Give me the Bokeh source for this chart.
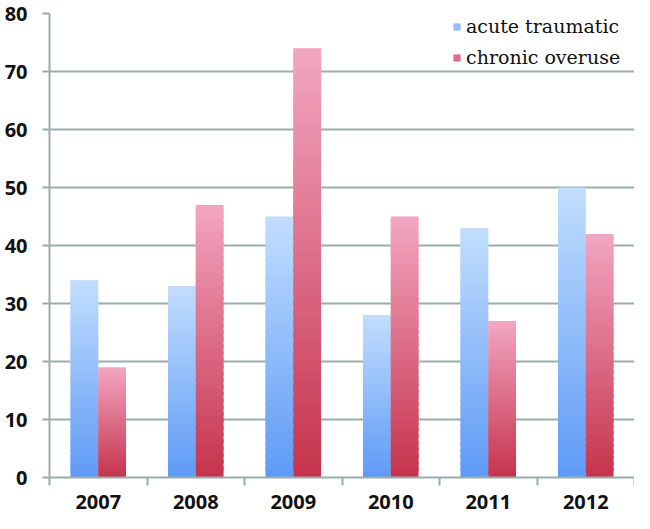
from bokeh.plotting import figure
from bokeh.models import (ColumnDataSource, Range1d, FixedTicker, Legend, LegendItem)
from bokeh.embed import file_html
from bokeh.resources import INLINE

years = ["2007", "2008", "2009", "2010", "2011", "2012"]
acute_traumatic = [34, 33, 45, 28, 43, 50]
chronic_overuse = [19, 47, 74, 45, 27, 42]
y_ticks = [0, 10, 20, 30, 40, 50, 60, 70, 80]

BLUE_TOP, BLUE_BOT = (0xC2, 0xDE, 0xFD), (0x5E, 0x9A, 0xF6)
RED_TOP, RED_BOT = (0xF2, 0xA6, 0xC2), (0xC6, 0x33, 0x4C)
GRID = "#98aeaa"
N = 40

W, H = 634, 513
BL, BR, BT, BB = 49, 0, 13, 36

def hexc(c):
    return "#%02x%02x%02x" % tuple(int(round(v)) for v in c)

def gradient_source(values, offset, top, bot):
    xs, bottoms, tops, colors = [], [], [], []
    for i, v in enumerate(values):
        for k in range(N):
            f = (k + 0.5) / N
            xs.append(i + 0.5 + offset)
            bottoms.append(v * k / N)
            ext = 0.6 if k < N - 1 else 0.0
            tops.append(v * (k + 1 + ext) / N)
            colors.append(hexc([b + (t - b) * f for t, b in zip(top, bot)]))
    return ColumnDataSource(dict(x=xs, bottom=bottoms, top=tops, color=colors))

p = figure(width=W, height=H, output_backend="svg", toolbar_location=None,
           x_range=Range1d(0, len(years)), y_range=Range1d(0, 80),
           min_border_left=BL, min_border_right=BR, min_border_top=BT, min_border_bottom=BB)
p.outline_line_color = None
p.background_fill_color = "white"
p.border_fill_color = "white"

bw = 0.285
src_a = gradient_source(acute_traumatic, -bw / 2, BLUE_TOP, BLUE_BOT)
src_c = gradient_source(chronic_overuse, bw / 2, RED_TOP, RED_BOT)
ra = p.vbar(x="x", bottom="bottom", top="top", width=bw, source=src_a,
            fill_color="color", line_color=None)
rc = p.vbar(x="x", bottom="bottom", top="top", width=bw, source=src_c,
            fill_color="color", line_color=None)

# axes
centers = [i + 0.5 for i in range(len(years))]
p.xaxis.ticker = FixedTicker(ticks=centers, minor_ticks=list(range(len(years) + 1)))
p.xaxis.major_label_overrides = {c: y for c, y in zip(centers, years)}
p.xaxis.major_tick_line_color = None
p.xaxis.major_tick_out = 0
p.xaxis.minor_tick_out = 8
p.xaxis.minor_tick_in = 0
p.xaxis.minor_tick_line_color = GRID
p.xaxis.minor_tick_line_width = 2
p.xaxis.major_label_standoff = 9
p.xgrid.grid_line_color = None

p.yaxis.ticker = FixedTicker(ticks=y_ticks, minor_ticks=[])
p.yaxis.major_tick_out = 7
p.yaxis.major_tick_in = 0
p.yaxis.major_tick_line_color = GRID
p.yaxis.major_tick_line_width = 2
p.yaxis.major_label_standoff = 15
p.ygrid.grid_line_color = GRID
p.ygrid.grid_line_width = 2

for ax in (p.xaxis, p.yaxis):
    ax.axis_line_color = GRID
    ax.axis_line_width = 2
    ax.major_label_text_font = "Open Sans"
    ax.major_label_text_font_style = "bold"
    ax.major_label_text_font_size = "20px"
    ax.major_label_text_color = "#111111"

frame_w = W - BL - BR
frame_h = H - BT - BB
leg_h = 54
legend = Legend(items=[
    LegendItem(label="acute traumatic", renderers=[ra], index=N // 2),
    LegendItem(label="chronic overuse", renderers=[rc], index=N // 2),
], location=(452 - BL, frame_h - leg_h - 1))
legend.label_text_font = "DejaVu Serif"
legend.label_text_font_size = "19px"
legend.label_text_color = "#111111"
legend.glyph_width = 9
legend.glyph_height = 9
legend.spacing = 9
legend.padding = 0
legend.margin = 0
legend.label_standoff = 5
legend.border_line_color = None
legend.background_fill_alpha = 0
p.add_layout(legend)

open("out.html", "w").write(file_html(p, INLINE))
